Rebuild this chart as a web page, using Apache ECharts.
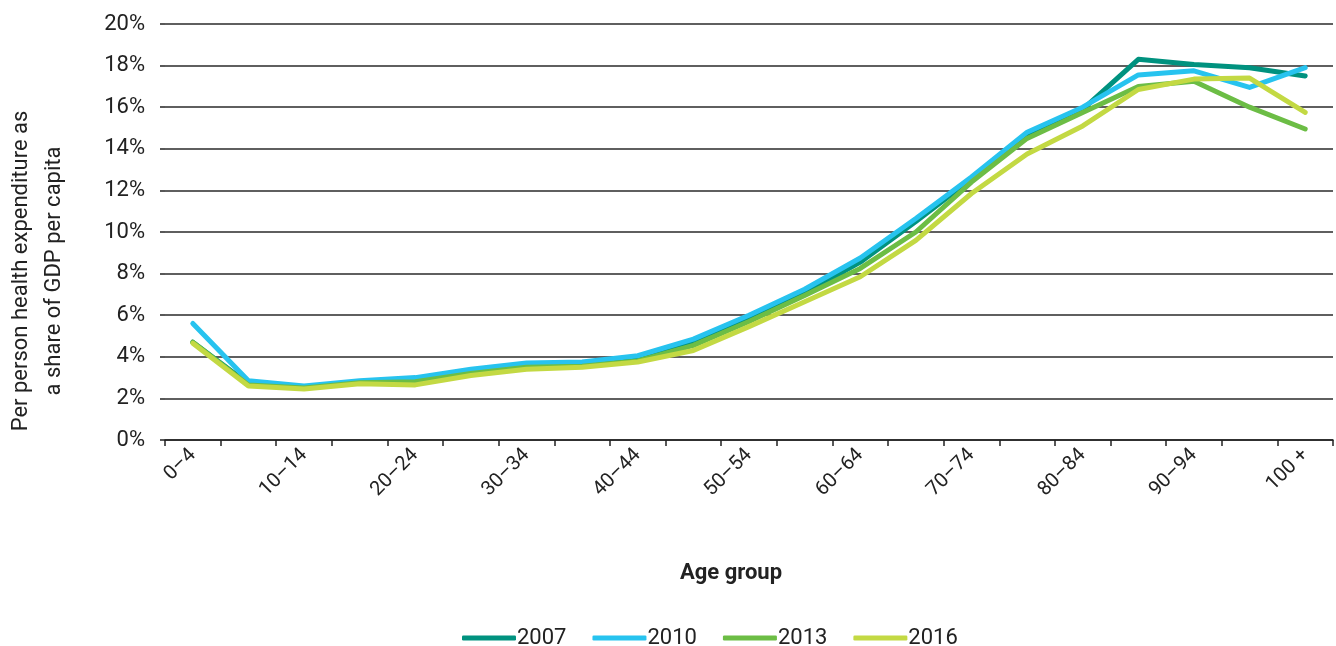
<!DOCTYPE html>
<html>
<head>
<meta charset="utf-8">
<script src="https://cdn.jsdelivr.net/npm/echarts@6/dist/echarts.min.js"></script>
<style>
html,body{margin:0;padding:0;background:#fff;}
#chart{width:1336px;height:646px;}
</style>
</head>
<body>
<div id="chart"></div>
<script>
const categories = ['0–4','5–9','10–14','15–19','20–24','25–29','30–34','35–39','40–44','45–49','50–54','55–59','60–64','65–69','70–74','75–79','80–84','85–89','90–94','95–99','100 +'];
const years = ['2007','2010','2013','2016'];
const s2007 = [4.7, 2.7, 2.55, 2.75, 2.85, 3.25, 3.6, 3.65, 3.95, 4.7, 5.85, 7.05, 8.55, 10.5, 12.55, 14.65, 15.9, 18.3, 18.05, 17.9, 17.5];
const s2010 = [5.6, 2.85, 2.6, 2.85, 3.0, 3.4, 3.7, 3.75, 4.05, 4.85, 6.0, 7.25, 8.75, 10.65, 12.65, 14.8, 16.0, 17.55, 17.75, 16.95, 17.9];
const s2013 = [4.7, 2.65, 2.5, 2.75, 2.8, 3.2, 3.5, 3.55, 3.8, 4.55, 5.7, 6.95, 8.25, 10.0, 12.4, 14.5, 15.75, 17.0, 17.25, 16.0, 14.95];
const s2016 = [4.65, 2.6, 2.45, 2.7, 2.65, 3.1, 3.4, 3.5, 3.75, 4.3, 5.45, 6.65, 7.85, 9.6, 11.85, 13.75, 15.1, 16.85, 17.35, 17.4, 15.75];
const colors = ['#00927f', '#27c3ef', '#6cbd45', '#c3d943'];
const allSeries = [s2007, s2010, s2013, s2016];

const FONT = 'Roboto, "Noto Sans", sans-serif';
const chart = echarts.init(document.getElementById('chart'));
chart.setOption({
  animation: false,
  color: colors,
  textStyle: { fontFamily: FONT },
  grid: { left: 165, right: 3, top: 24, bottom: 206, containLabel: false, outerBoundsMode: 'none' },
  legend: {
    data: years,
    top: 622,
    left: 457,
    icon: 'roundRect',
    itemWidth: 54,
    itemHeight: 5,
    itemGap: 26,
    textStyle: { fontSize: 22, color: '#222', fontFamily: FONT, padding: [0,0,0,-4] }
  },
  xAxis: {
    type: 'category',
    data: categories,
    boundaryGap: true,
    name: 'Age group',
    nameLocation: 'middle',
    nameGap: 122,
    nameTextStyle: { fontSize: 22, fontWeight: 'bold', color: '#222', fontFamily: FONT, padding: [0, 36, 0, 0] },
    axisLine: { lineStyle: { color: '#222', width: 1.5 } },
    axisTick: { show: true, length: 6, interval: 0, lineStyle: { color: '#222', width: 1.5 } },
    axisLabel: { interval: 1, rotate: 45, fontSize: 20, color: '#222', margin: 12, fontFamily: FONT }
  },
  yAxis: {
    type: 'value',
    min: 0, max: 20, interval: 2,
    name: 'Per person health expenditure as\na share of GDP per capita',
    nameLocation: 'middle',
    nameRotate: 90,
    nameGap: 94,
    nameTextStyle: { fontSize: 22, color: '#222', lineHeight: 33, fontFamily: FONT, padding: [0, 78, 0, 0] },
    axisLine: { show: false },
    axisTick: { show: true, length: 5, lineStyle: { color: '#222', width: 1.5 } },
    axisLabel: { formatter: '{value}%', fontSize: 22, color: '#222', margin: 20, fontFamily: FONT },
    splitLine: { lineStyle: { color: '#2a2a2a', width: 1.5 } }
  },
  series: years.map((y, i) => ({
    name: y,
    type: 'line',
    data: allSeries[i],
    symbol: 'none',
    lineStyle: { width: 5, color: colors[i], cap: 'round', join: 'round' },
    itemStyle: { color: colors[i] }
  }))
});
</script>
</body>
</html>
